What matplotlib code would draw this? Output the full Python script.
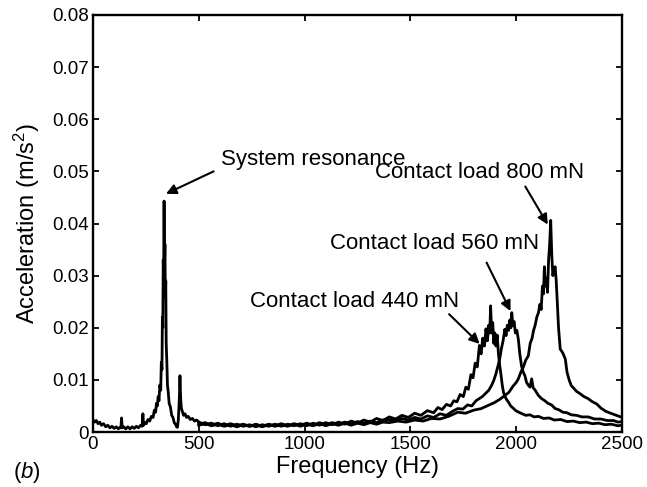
import matplotlib
matplotlib.use("Agg")
import matplotlib.pyplot as plt

plt.rcParams['font.family'] = ['Liberation Sans', 'DejaVu Sans']
plt.rcParams['mathtext.fontset'] = 'custom'
plt.rcParams['mathtext.rm'] = 'Liberation Sans'
plt.rcParams['mathtext.it'] = 'Liberation Sans:italic'

# ---- data ----
freq_shared = [0, 8, 16, 24, 32, 40, 50, 60, 70, 80, 90, 100, 110, 120, 128, 132, 135, 138, 145, 155,
               165, 175, 185, 195, 205, 215, 225, 232, 236, 239, 245, 252, 260, 268, 276, 284, 290, 296,
               300, 304, 308, 312, 316, 320, 323, 326, 328, 330, 332, 334, 336, 338, 340, 342, 344, 346,
               349, 352, 356, 360, 366, 372, 378, 384, 390, 395, 399, 403, 406, 409, 411, 413, 415, 418,
               422, 428, 435, 442, 450, 460, 470, 480, 490, 500]
acc_shared = [0.0024, 0.0019, 0.0022, 0.0016, 0.0019, 0.0013, 0.0016, 0.0010, 0.0013, 0.0008, 0.0011,
              0.0007, 0.0010, 0.0006, 0.0009, 0.0008, 0.0027, 0.0008, 0.0010, 0.0006, 0.0010, 0.0006,
              0.0010, 0.0007, 0.0011, 0.0008, 0.0013, 0.0011, 0.0035, 0.0013, 0.0018, 0.0016, 0.0024,
              0.0021, 0.0030, 0.0028, 0.0042, 0.0038, 0.0055, 0.0050, 0.0068, 0.0060, 0.0090, 0.0080,
              0.0134, 0.0120, 0.0220, 0.0200, 0.0330, 0.0300, 0.0443, 0.0320, 0.0360, 0.0260, 0.0290,
              0.0170, 0.0135, 0.0090, 0.0075, 0.0055, 0.0048, 0.0032, 0.0028, 0.0018, 0.0015, 0.0010,
              0.0009, 0.0022, 0.0045, 0.0075, 0.0108, 0.0080, 0.0060, 0.0045, 0.0040, 0.0032, 0.0035,
              0.0028, 0.0030, 0.0024, 0.0026, 0.0021, 0.0023, 0.0019]

freq_base = [500, 530, 560, 590, 620, 650, 680, 710, 740, 770, 800, 830, 860, 890, 920, 950, 980,
             1010, 1040, 1070, 1100, 1130, 1160, 1190, 1220, 1250, 1280, 1310, 1340, 1370]

freq_440 = freq_base + [1400, 1430, 1460, 1490, 1520, 1550, 1580, 1610, 1630, 1650, 1670, 1690, 1705,
                        1720, 1735, 1750, 1762, 1774, 1786, 1796, 1806, 1816, 1826, 1834, 1842, 1850,
                        1857, 1864, 1870, 1875, 1879, 1884, 1889, 1894, 1899, 1904, 1910, 1916, 1922,
                        1928, 1934, 1940, 1947, 1955, 1964, 1974, 1985, 1998, 2012, 2028, 2045, 2065,
                        2085, 2105, 2130, 2155, 2180, 2210, 2240, 2270, 2300, 2330, 2360, 2390, 2420,
                        2450, 2480, 2500]
acc_440 = [0.0019, 0.0014, 0.0017, 0.0012, 0.0016, 0.0011, 0.0015, 0.0011, 0.0014, 0.0010, 0.0014,
           0.0011, 0.0015, 0.0011, 0.0015, 0.0012, 0.0016, 0.0012, 0.0017, 0.0013, 0.0018, 0.0014,
           0.0019, 0.0015, 0.0021, 0.0017, 0.0023, 0.0019, 0.0026, 0.0022,
           0.0029, 0.0025, 0.0032, 0.0028, 0.0036, 0.0032, 0.0041, 0.0037, 0.0047, 0.0043, 0.0053,
           0.0050, 0.0060, 0.0058, 0.0072, 0.0068, 0.0086, 0.0082, 0.0110, 0.0104, 0.0132, 0.0125,
           0.0166, 0.0150, 0.0180, 0.0165, 0.0198, 0.0175, 0.0205, 0.0190, 0.0242, 0.0190, 0.0210,
           0.0170, 0.0190, 0.0165, 0.0186, 0.0150, 0.0128, 0.0110, 0.0090, 0.0076, 0.0068, 0.0062,
           0.0057, 0.0050, 0.0046, 0.0041, 0.0038, 0.0035, 0.0032, 0.0033, 0.0029, 0.0030, 0.0026,
           0.0027, 0.0023, 0.0024, 0.0020, 0.0021, 0.0018, 0.0019, 0.0016, 0.0017, 0.0014, 0.0015,
           0.0012, 0.0013]

freq_560 = freq_base + [1400, 1430, 1460, 1490, 1520, 1550, 1580, 1610, 1640, 1670, 1700, 1724, 1748,
                        1770, 1790, 1810, 1825, 1840, 1855, 1870, 1883, 1893, 1903, 1914, 1922, 1930,
                        1938, 1946, 1952, 1958, 1964, 1970, 1975, 1979, 1984, 1990, 1996, 2003, 2010,
                        2017, 2025, 2033, 2041, 2049, 2057, 2065, 2073, 2080, 2090, 2105, 2120, 2135,
                        2150, 2167, 2184, 2200, 2220, 2240, 2260, 2285, 2310, 2340, 2370, 2400, 2430,
                        2460, 2480, 2500]
acc_560 = [0.0015, 0.0018, 0.0013, 0.0017, 0.0012, 0.0016, 0.0012, 0.0015, 0.0011, 0.0015, 0.0011,
           0.0015, 0.0012, 0.0016, 0.0012, 0.0016, 0.0013, 0.0017, 0.0013, 0.0018, 0.0014, 0.0018,
           0.0015, 0.0019, 0.0016, 0.0020, 0.0017, 0.0021, 0.0018, 0.0023,
           0.0024, 0.0021, 0.0026, 0.0023, 0.0028, 0.0025, 0.0031, 0.0028, 0.0035, 0.0032, 0.0040,
           0.0045, 0.0044, 0.0052, 0.0050, 0.0060, 0.0064, 0.0068, 0.0074, 0.0080, 0.0089, 0.0098,
           0.0110, 0.0127, 0.0140, 0.0160, 0.0175, 0.0197, 0.0185, 0.0205, 0.0195, 0.0215, 0.0200,
           0.0229, 0.0205, 0.0212, 0.0190, 0.0195, 0.0178, 0.0150, 0.0127, 0.0115, 0.0108, 0.0095,
           0.0090, 0.0086, 0.0102, 0.0085, 0.0080, 0.0070, 0.0064, 0.0060, 0.0055, 0.0052, 0.0045,
           0.0043, 0.0038, 0.0037, 0.0033, 0.0032, 0.0029, 0.0029, 0.0025, 0.0025, 0.0022, 0.0022,
           0.0019, 0.0020]

freq_800 = freq_base + [1400, 1440, 1480, 1520, 1560, 1600, 1640, 1680, 1724, 1760, 1800, 1835, 1867,
                        1895, 1920, 1946, 1965, 1985, 2000, 2010, 2022, 2034, 2045, 2057, 2066, 2075,
                        2082, 2089, 2097, 2105, 2112, 2118, 2124, 2129, 2133, 2138, 2143, 2148, 2153,
                        2158, 2163, 2168, 2173, 2178, 2184, 2189, 2194, 2200, 2208, 2215, 2222, 2232,
                        2240, 2250, 2260, 2272, 2285, 2300, 2320, 2340, 2360, 2380, 2400, 2422, 2440,
                        2460, 2480, 2494, 2500]
acc_800 = [0.0013, 0.0016, 0.0012, 0.0015, 0.0011, 0.0014, 0.0010, 0.0014, 0.0011, 0.0014, 0.0010,
           0.0014, 0.0011, 0.0014, 0.0011, 0.0015, 0.0011, 0.0015, 0.0012, 0.0016, 0.0012, 0.0016,
           0.0013, 0.0017, 0.0013, 0.0017, 0.0014, 0.0018, 0.0015, 0.0019,
           0.0018, 0.0021, 0.0019, 0.0023, 0.0021, 0.0026, 0.0025, 0.0030, 0.0038, 0.0036, 0.0042,
           0.0045, 0.0051, 0.0056, 0.0062, 0.0070, 0.0076, 0.0088, 0.0095, 0.0102, 0.0115, 0.0125,
           0.0138, 0.0146, 0.0170, 0.0180, 0.0195, 0.0204, 0.0220, 0.0229, 0.0245, 0.0235, 0.0280,
           0.0265, 0.0317, 0.0280, 0.0295, 0.0268, 0.0330, 0.0360, 0.0406, 0.0340, 0.0300, 0.0310,
           0.0317, 0.0290, 0.0250, 0.0200, 0.0159, 0.0155, 0.0150, 0.0140, 0.0115, 0.0100, 0.0089,
           0.0084, 0.0078, 0.0074, 0.0068, 0.0064, 0.0058, 0.0054, 0.0046, 0.0040, 0.0037, 0.0034,
           0.0031, 0.0029, 0.0028]

x_ticks = [0, 500, 1000, 1500, 2000, 2500]
y_ticks = [0, 0.01, 0.02, 0.03, 0.04, 0.05, 0.06, 0.07, 0.08]
y_tick_labels = ['0', '0.01', '0.02', '0.03', '0.04', '0.05', '0.06', '0.07', '0.08']

# ---- figure ----
fig = plt.figure(figsize=(6.47, 4.87), dpi=100)
ax = fig.add_axes([0.1437, 0.1129, 0.8177, 0.8563])

lw = 2.0
ax.plot(freq_shared, acc_shared, color='black', lw=lw)
for f, a in [(freq_440, acc_440), (freq_560, acc_560), (freq_800, acc_800)]:
    ax.plot(f, a, color='black', lw=lw)

ax.set_xlim(0, 2500)
ax.set_ylim(0, 0.08)
ax.set_xticks(x_ticks)
ax.set_xticklabels([str(t) for t in x_ticks])
ax.set_yticks(y_ticks)
ax.set_yticklabels(y_tick_labels)
ax.tick_params(direction='in', length=4, width=1.3, top=True, right=True,
               labelsize=13.5, colors='black', pad=3)
for s in ax.spines.values():
    s.set_linewidth(1.7)

ax.set_xlabel('Frequency (Hz)', fontsize=17, labelpad=2)
ax.set_ylabel(r'Acceleration (m/s$^2$)', fontsize=17, labelpad=7)
fig.text(0.020, 0.018, r'($\mathit{b}$)', fontsize=16, va='baseline')

arrow = dict(arrowstyle='-|>', color='black', lw=1.5, mutation_scale=15, shrinkA=0, shrinkB=0)
ax.text(605, 0.0512, 'System resonance', fontsize=16, ha='left', va='baseline')
ax.annotate('', xy=(345, 0.0457), xytext=(570, 0.0500), arrowprops=arrow)
ax.text(1333, 0.0488, 'Contact load 800 mN', fontsize=16, ha='left', va='baseline')
ax.annotate('', xy=(2149, 0.0398), xytext=(2043, 0.0471), arrowprops=arrow)
ax.text(1120, 0.0351, 'Contact load 560 mN', fontsize=16, ha='left', va='baseline')
ax.annotate('', xy=(1973, 0.0232), xytext=(1860, 0.0325), arrowprops=arrow)
ax.text(742, 0.0240, 'Contact load 440 mN', fontsize=16, ha='left', va='baseline')
ax.annotate('', xy=(1827, 0.0169), xytext=(1683, 0.0226), arrowprops=arrow)

fig.savefig('out.png', dpi=100)
